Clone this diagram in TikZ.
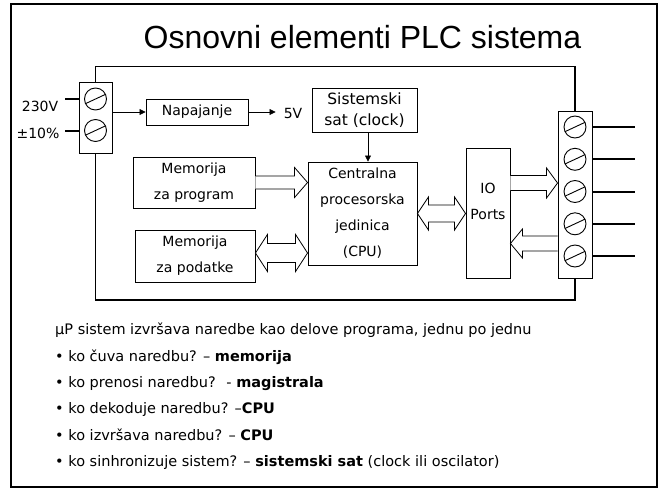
\documentclass[tikz,border=0pt]{standalone}
\usepackage{fontspec}
\setmainfont{DejaVu Sans}
\newfontfamily\titlefont{Liberation Sans}
\usetikzlibrary{arrows.meta,calc}

% single hollow bus arrow: #1 tail, #2 tip (y taken from tip), #3 shaft half-width,
% #4 head half-width, #5 signed head length
\newcommand\busone[5]{%
  \draw[bus] let \p1=(#1), \p2=(#2) in
    (\x1,{\y2+#3}) -- ({\x2-(#5)},{\y2+#3}) -- ({\x2-(#5)},{\y2+#4}) -- (\x2,\y2)
    -- ({\x2-(#5)},{\y2-#4}) -- ({\x2-(#5)},{\y2-#3}) -- (\x1,{\y2-#3});}
% double hollow bus arrow, left end #1 (y taken from it), right end #2
\newcommand\bustwo[5]{%
  \draw[bus] let \p1=(#1), \p2=(#2) in
    (\x1,\y1) -- ({\x1+#5},{\y1+#4}) -- ({\x1+#5},{\y1+#3}) -- ({\x2-#5},{\y1+#3})
    -- ({\x2-#5},{\y1+#4}) -- (\x2,\y1) -- ({\x2-#5},{\y1-#4}) -- ({\x2-#5},{\y1-#3})
    -- ({\x1+#5},{\y1-#3}) -- ({\x1+#5},{\y1-#4}) -- cycle;}

\tikzset{
  box/.style={draw, line width=0.9pt, inner sep=0pt, align=center,
    font=\fontsize{14}{26}\selectfont},
  tblock/.style={draw, line width=0.9pt, inner sep=0pt, fill=white},
  screw/.style={circle, draw, line width=0.9pt, minimum size=22pt, inner sep=0pt,
    path picture={\draw[line width=0.9pt]
      ($(path picture bounding box.center)+(155:11)$) --
      ($(path picture bounding box.center)+(-25:11)$);}},
  wire/.style={line width=2pt},
  plcframe/.style={line width=1.5pt},
  sig/.style={line width=0.7pt, -{Triangle[length=6pt,width=6pt]}},
  bus/.style={draw, fill=white, line width=0.8pt, line join=miter},
  txt/.style={inner sep=0pt, font=\fontsize{14}{16}\selectfont},
  qline/.style={anchor=base west, inner sep=0pt, font=\fontsize{14.5}{16}\selectfont},
}

\begin{document}
\begin{tikzpicture}[x=1pt,y=-1pt]
\useasboundingbox (0,0) rectangle (667,490);
\draw[line width=2pt] (11,4) rectangle (657,487);

\node[anchor=base, inner sep=0pt, font=\titlefont\fontsize{32}{36}\selectfont]
  (title) at (362.5,48) {Osnovni elementi PLC sistema};

% terminal blocks
\node[tblock, minimum width=33pt, minimum height=71pt] (tl) at (95.5,117.5) {};
\node[screw] (s1) at (95.5,99) {};
\node[screw] (s2) at (95.5,130.5) {};
\node[tblock, minimum width=34pt, minimum height=167pt] (tr) at (575,194.5) {};
\node[screw] (o1) at (575,127) {};
\node[screw] (o2) at (575,159.3) {};
\node[screw] (o3) at (575,191.5) {};
\node[screw] (o4) at (575,223.8) {};
\node[screw] (o5) at (575,256) {};

% PLC enclosure
\draw[plcframe] (tl.north) -- ++(0,-15) -| (tr.north);
\draw[plcframe] (tl.south) -- (tl.south |- 0,300) -| (tr.south);

% supply wires and outputs
\draw[wire] (tl.west |- s1) -- ++(-14,0);
\draw[wire] (tl.west |- s2) -- ++(-14,0);
\node[txt] (v230) at (40,106) {230V};
\node[txt] (v10) at (38,133) {±10\%};
\foreach \o in {o1,o2,o3,o4,o5}
  \draw[wire] (tr.east |- \o) -- ++(43,0);

% functional blocks
\node[box, minimum width=102pt, minimum height=26pt] (nap) at (197,112) {Napajanje};
\node[txt] (v5) at (293,113) {5V};
\node[box, minimum width=105pt, minimum height=44pt, font=\fontsize{15.5}{21}\selectfont]
  (clk) at (364.5,110) {Sistemski\\sat (clock)};
\node[box, minimum width=122pt, minimum height=51pt] (prog) at (194,182.5) {Memorija\\za program};
\node[box, minimum width=120pt, minimum height=52pt] (data) at (195,256) {Memorija\\za podatke};
\node[box, minimum width=109pt, minimum height=103pt] (cpu) at (362.5,213.5)
  {Centralna\\procesorska\\jedinica\\(CPU)};
\node[box, minimum width=44pt, minimum height=130pt] (io) at (488,213) {};
\node[txt, align=center, font=\fontsize{14}{26}\selectfont] (iotxt) at (488,201) {IO\\Ports};

% signal arrows
\draw[sig] (tl.east |- nap.west) -- (nap.west);
\draw[sig, shorten >=8pt] (nap.east) -- (nap.east -| v5.west);
\draw[sig] ([xshift=3.5pt]clk.south) -- ([xshift=5.5pt]cpu.north);

% buses
\busone{prog.east}{cpu.west |- prog.east}{6.5pt}{15pt}{13pt}
\bustwo{$(data.east)+(0,-3)$}{cpu.west}{9.5pt}{18.5pt}{12pt}
\bustwo{cpu.east}{io.west}{8.5pt}{16.5pt}{11pt}
\busone{io.east |- 0,183}{tr.west |- 0,183}{7.5pt}{15pt}{11pt}
\busone{tr.west |- 0,243.5}{io.east |- 0,243.5}{7.5pt}{14.5pt}{-12pt}

% question list
\node[qline] (q0) at (55,334.5) {μP sistem izvršava naredbe kao delove programa, jednu po jednu};
\node[qline] (q1) at (55,361) {• ko čuva naredbu? – \textbf{memorija}};
\node[qline] (q2) at (55,387.3) {• ko prenosi naredbu?~ - \textbf{magistrala}};
\node[qline] (q3) at (55,413.7) {• ko dekoduje naredbu? –\textbf{CPU}};
\node[qline] (q4) at (55,440) {• ko izvršava naredbu? – \textbf{CPU}};
\node[qline] (q5) at (55,466.5) {• ko sinhronizuje sistem? – \textbf{sistemski sat} (clock ili oscilator)};
\end{tikzpicture}
\end{document}
